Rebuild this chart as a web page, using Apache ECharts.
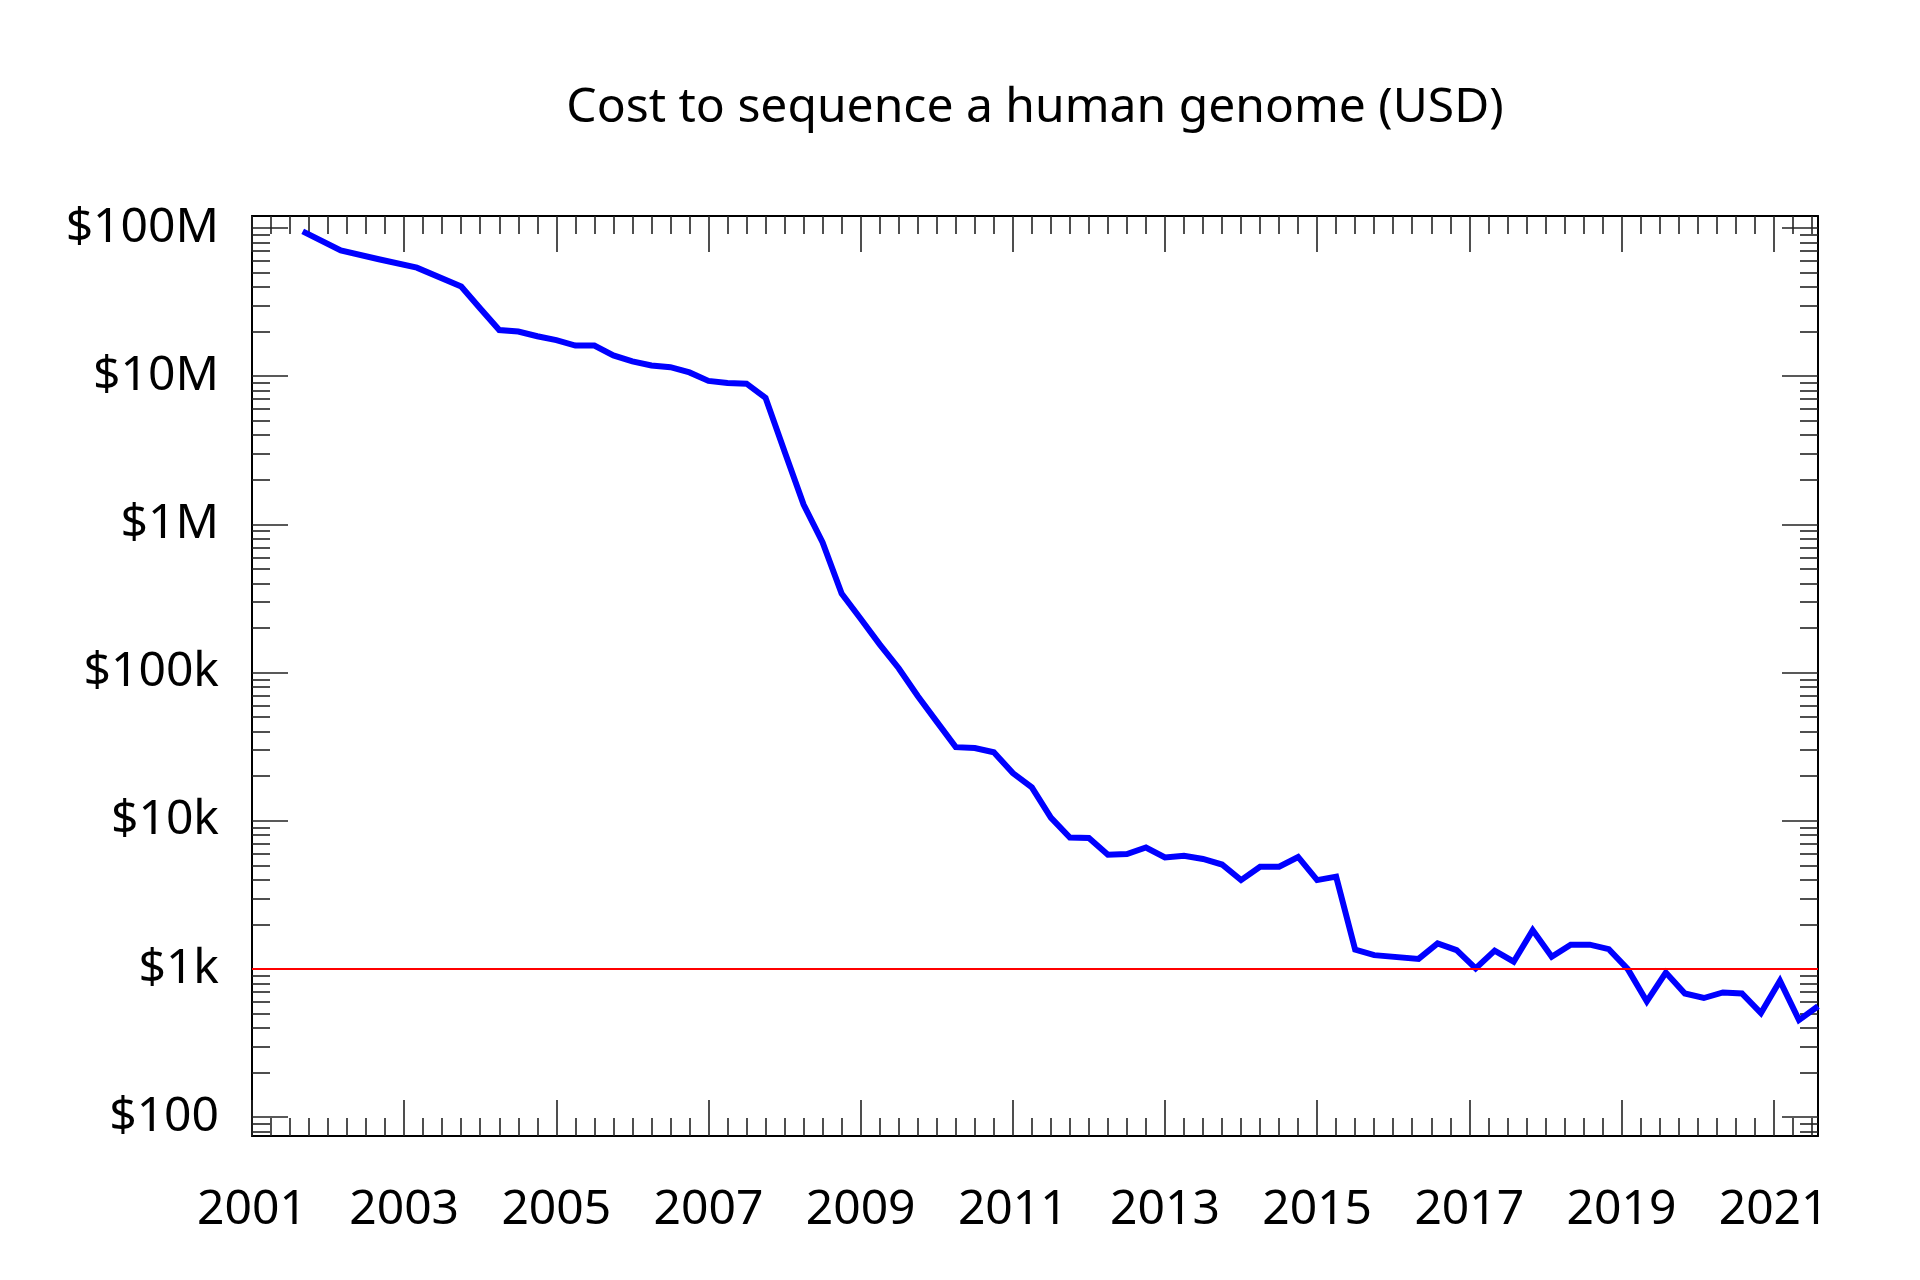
<!DOCTYPE html>
<html>
<head>
<meta charset="utf-8">
<script src="https://cdn.jsdelivr.net/npm/echarts@6/dist/echarts.min.js"></script>
<style>
html,body{margin:0;padding:0;background:#fff;}
#chart{width:1920px;height:1280px;}
</style>
</head>
<body>
<div id="chart"></div>
<script>
// ---- data ----
const dates = [
  '2001-09','2002-03','2002-09','2003-03','2003-10',
  '2004-01','2004-04','2004-07','2004-10',
  '2005-01','2005-04','2005-07','2005-10',
  '2006-01','2006-04','2006-07','2006-10',
  '2007-01','2007-04','2007-07','2007-10',
  '2008-01','2008-04','2008-07','2008-10',
  '2009-01','2009-04','2009-07','2009-10',
  '2010-01','2010-04','2010-07','2010-10',
  '2011-01','2011-04','2011-07','2011-10',
  '2012-01','2012-04','2012-07','2012-10',
  '2013-01','2013-04','2013-07','2013-10',
  '2014-01','2014-04','2014-07','2014-10',
  '2015-01','2015-04','2015-07','2015-10',
  '2016-05','2016-08','2016-11',
  '2017-02','2017-05','2017-08','2017-11',
  '2018-02','2018-05','2018-08','2018-11',
  '2019-02','2019-05','2019-08','2019-11',
  '2020-02','2020-05','2020-08','2020-11',
  '2021-02','2021-05','2021-08'
];
const costs = [
  95000000, 70500000, 61500000, 54000000, 40300000,
  28600000, 20500000, 20000000, 18600000,
  17500000, 16100000, 16100000, 13800000,
  12600000, 11800000, 11500000, 10600000,
  9300000, 9000000, 8900000, 7150000,
  3100000, 1360000, 755000, 341000,
  231000, 155000, 107000, 69500,
  46700, 31400, 31000, 29000,
  21000, 16800, 10500, 7700,
  7650, 5900, 5970, 6600,
  5660, 5800, 5530, 5070,
  3980, 4900, 4900, 5700,
  3980, 4200, 1350, 1240,
  1170, 1490, 1340,
  1010, 1330, 1120, 1830,
  1210, 1460, 1460, 1360,
  998, 604, 946, 684,
  637, 694, 684, 504,
  832, 452, 560
];
const yearTicks = [2001, 2003, 2005, 2007, 2009, 2011, 2013, 2015, 2017, 2019, 2021];
const costTicks = [100, 1000, 10000, 100000, 1000000, 10000000, 100000000];
const costTickLabels = ['$100', '$1k', '$10k', '$100k', '$1M', '$10M', '$100M'];
const targetCost = 1000;
const titleText = 'Cost to sequence a human genome (USD)';

// ---- axis extents ----
const X_MIN = 2001, X_MAX = 2021 + 7 / 12;
const Y_MIN = 1.873, Y_MAX = 8.081; // log10 of the cost range shown

function toYear(s) {
  const [y, m] = s.split('-').map(Number);
  return y + (m - 1) / 12;
}
const seriesData = dates.map((d, i) => [toYear(d), Math.log10(costs[i])]);

const majorY = costTicks.map(v => Math.log10(v));
const minorY = [];
for (let n = 1; n <= 8; n++) {
  for (let k = 2; k <= 9; k++) {
    const v = Math.log10(k * Math.pow(10, n));
    if (v > Y_MIN && v < Y_MAX) minorY.push(v);
  }
}
const minorX = [];
for (let q = X_MIN; q < X_MAX; q += 0.25) {
  if (Math.abs(((q - X_MIN) % 2)) > 1e-6) minorX.push(q);
}

const font = 'Noto Sans';
const FS = 48;
const tickStyle = { color: '#222', width: 1.6 };

function xAx(pos, major) {
  return {
    type: 'value', position: pos, min: X_MIN, max: X_MAX,
    splitLine: { show: false },
    axisLine: { show: major, onZero: false, lineStyle: { color: '#000', width: 2 } },
    axisTick: { show: true, inside: true, length: major ? 36 : 18,
      customValues: major ? yearTicks : minorX, lineStyle: tickStyle },
    axisLabel: (major && pos === 'bottom') ? {
      show: true, customValues: yearTicks, margin: 50,
      fontSize: FS, fontFamily: font, color: '#000',
      formatter: v => String(Math.round(v))
    } : { show: false }
  };
}
function yAx(pos, major) {
  return {
    type: 'value', position: pos, min: Y_MIN, max: Y_MAX,
    splitLine: { show: false },
    axisLine: { show: major, onZero: false, lineStyle: { color: '#000', width: 2 } },
    axisTick: { show: true, inside: true, length: major ? 36 : 18,
      customValues: major ? majorY : minorY, lineStyle: tickStyle },
    axisLabel: (major && pos === 'left') ? {
      show: true, customValues: majorY, margin: 33,
      fontSize: FS, fontFamily: font, color: '#000',
      formatter: v => {
        for (let i = 0; i < majorY.length; i++) {
          if (Math.abs(majorY[i] - v) < 1e-6) return costTickLabels[i];
        }
        return '';
      }
    } : { show: false }
  };
}

const chart = echarts.init(document.getElementById('chart'), null, { renderer: 'canvas' });
chart.setOption({
  animation: false,
  backgroundColor: '#fff',
  graphic: [{
    type: 'text', x: 1035, y: 108,
    style: { text: titleText, fontSize: FS, fontFamily: font, fill: '#000',
             align: 'center', verticalAlign: 'middle' }
  }],
  grid: { left: 252, right: 102, top: 216, bottom: 144, containLabel: false },
  xAxis: [xAx('bottom', true), xAx('bottom', false), xAx('top', true), xAx('top', false)],
  yAxis: [yAx('left', true), yAx('left', false), yAx('right', true), yAx('right', false)],
  series: [{
    type: 'line',
    xAxisIndex: 0, yAxisIndex: 0,
    data: seriesData,
    showSymbol: false,
    symbol: 'none',
    lineStyle: { color: '#0000ff', width: 6, join: 'miter', cap: 'butt' },
    z: 2,
    markLine: {
      silent: true,
      symbol: ['none', 'none'],
      label: { show: false },
      lineStyle: { color: '#ff0000', width: 2, type: 'solid' },
      data: [{ yAxis: Math.log10(targetCost) }]
    }
  }]
});
</script>
</body>
</html>
